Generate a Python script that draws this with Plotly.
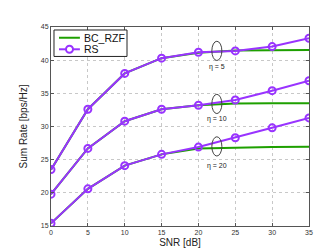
import plotly.graph_objects as go

snr = [0, 5, 10, 15, 20, 25, 30, 35]

rs_eta5 = [23.5, 32.6, 38.0, 40.3, 41.2, 41.4, 42.05, 43.3]
rs_eta10 = [19.8, 26.7, 30.8, 32.6, 33.2, 34.0, 35.4, 36.9]
rs_eta20 = [15.4, 20.6, 24.1, 25.8, 26.9, 28.3, 29.8, 31.3]

bc_eta5 = [23.5, 32.6, 38.0, 40.3, 41.1, 41.45, 41.5, 41.55]
bc_eta10 = [19.8, 26.7, 30.8, 32.6, 33.2, 33.45, 33.5, 33.5]
bc_eta20 = [15.4, 20.6, 24.1, 25.8, 26.7, 26.85, 26.9, 26.95]

series_names = ["BC_RZF", "RS"]
eta_labels = ["η = 5", "η = 10", "η = 20"]
ellipse_x = 22.5
ellipse_y = [41.4, 33.4, 27.0]
label_y = [38.9, 31.1, 24.1]

PURPLE = "#9933ff"
GREEN = "#1ea000"

fig = go.Figure()
for ys in [bc_eta5, bc_eta10, bc_eta20]:
    fig.add_trace(go.Scatter(x=snr, y=ys, mode="lines", name=series_names[0],
                             line=dict(color=GREEN, width=2), showlegend=False))
for ys in [rs_eta5, rs_eta10, rs_eta20]:
    fig.add_trace(go.Scatter(x=snr, y=ys, mode="lines+markers", name=series_names[1],
                             line=dict(color=PURPLE, width=2),
                             marker=dict(symbol="circle-open", size=7,
                                         line=dict(color=PURPLE, width=2)),
                             showlegend=False))

for cy, ly, txt in zip(ellipse_y, label_y, eta_labels):
    fig.add_shape(type="circle", xref="x", yref="y",
                  x0=ellipse_x - 0.68, x1=ellipse_x + 0.68,
                  y0=cy - 1.45, y1=cy + 1.45,
                  line=dict(color="#444444", width=1))
    fig.add_annotation(x=ellipse_x, y=ly, text=txt, showarrow=False,
                       font=dict(size=7, color="#222222"))

# Compact MATLAB-style legend box (paper coordinates of the plot area)
fig.add_shape(type="rect", xref="paper", yref="paper",
              x0=0.0116, x1=0.2946, y0=0.852, y1=0.985,
              line=dict(color="#222222", width=1), fillcolor="white", layer="above")
leg_rows = [(0.946, GREEN, False), (0.888, PURPLE, True)]
for (ry, col, mk), name in zip(leg_rows, series_names):
    fig.add_shape(type="line", xref="paper", yref="paper",
                  x0=0.031, x1=0.112, y0=ry, y1=ry,
                  line=dict(color=col, width=2), layer="above")
    if mk:
        fig.add_shape(type="circle", xref="paper", yref="paper",
                      xsizemode="pixel", ysizemode="pixel",
                      xanchor=0.0717, yanchor=ry,
                      x0=-3.5, x1=3.5, y0=-3.5, y1=3.5,
                      line=dict(color=col, width=2), fillcolor="white", layer="above")
    fig.add_annotation(xref="paper", yref="paper", x=0.122, y=ry, text=name,
                       xanchor="left", yanchor="middle", showarrow=False,
                       font=dict(size=10.5, color="#111111"))

axis_common = dict(showgrid=True, gridcolor="#c8c8c8", griddash="dot",
                   gridwidth=1, showline=True, linecolor="#555555",
                   linewidth=1, mirror="ticks", ticks="inside", ticklen=3,
                   tickcolor="#555555", zeroline=False,
                   tickfont=dict(size=7, color="#333333"))

fig.update_layout(
    width=332, height=250,
    margin=dict(l=43, r=31, t=19, b=28),
    paper_bgcolor="white", plot_bgcolor="white",
    font=dict(family="Liberation Sans, Arial, sans-serif", color="#222222"),
    showlegend=False,
    xaxis=dict(range=[0, 35], tickvals=snr,
               title=dict(text="SNR [dB]", font=dict(size=10), standoff=3),
               **axis_common),
    yaxis=dict(range=[15, 45], tickvals=[15, 20, 25, 30, 35, 40, 45],
               title=dict(text="Sum Rate [bps/Hz]", font=dict(size=10), standoff=11),
               **axis_common),
)

fig.write_html("out.html")
